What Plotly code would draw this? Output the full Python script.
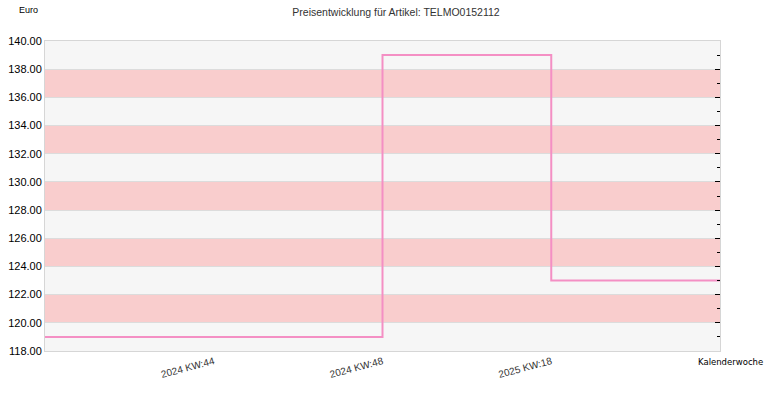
import plotly.graph_objects as go

# price history, one point per calendar week slot
weeks = ["", "2024 KW:44", "2024 KW:48", "2025 KW:18", ""]
prices = [119.0, 119.0, 139.0, 123.0, 123.0]
tick_labels = ["2024 KW:44", "2024 KW:48", "2025 KW:18"]

Y_MIN, Y_MAX, STEP = 118, 140, 2
FONT = "Liberation Sans, Arial, sans-serif"

x = list(range(len(weeks)))
tick_pos = [weeks.index(t) for t in tick_labels]

fig = go.Figure()
fig.add_trace(go.Scatter(x=x, y=prices, mode="lines", line_shape="hv",
                         line=dict(color="#f48fc4", width=2), hoverinfo="skip"))

# alternating background bands
shapes = []
for i, y0 in enumerate(range(Y_MIN, Y_MAX, STEP)):
    shapes.append(dict(type="rect", xref="paper", yref="y", x0=0, x1=1,
                       y0=y0, y1=y0 + STEP, layer="below", line_width=0,
                       fillcolor="#f6f6f6" if i % 2 == 0 else "#f9cdcd"))

fig.update_layout(
    width=770, height=400,
    margin=dict(l=45, r=50, t=41, b=49, autoexpand=False),
    paper_bgcolor="white", plot_bgcolor="white",
    showlegend=False,
    shapes=shapes,
    font=dict(family=FONT, size=11, color="#000"),
    title=dict(text="Preisentwicklung für Artikel: TELMO0152112", x=0.52, xanchor="center",
               xref="paper", yref="container", y=1 - 12 / 400, yanchor="middle",
               font=dict(size=10.5, color="#333")),
    xaxis=dict(range=[0, len(weeks) - 1], tickvals=tick_pos, ticktext=tick_labels,
               tickangle=-15, showgrid=False, zeroline=False, ticks="", automargin=False,
               showline=True, mirror=True, linecolor="#d6d6d6", linewidth=1,
               tickfont=dict(size=10, color="#333")),
    yaxis=dict(range=[Y_MIN, Y_MAX], dtick=STEP, tickformat=".2f", automargin=False,
               showgrid=True, gridcolor="#dcdcdc", gridwidth=1, zeroline=False,
               showline=True, mirror=True, linecolor="#d6d6d6", ticks="",
               layer="below traces", tickfont=dict(size=11, color="#000")),
    yaxis2=dict(range=[Y_MIN, Y_MAX], overlaying="y", side="right", dtick=STEP,
                showticklabels=False, showgrid=False, zeroline=False, automargin=False,
                ticks="inside", ticklen=5, tickcolor="#000", tickwidth=1,
                minor=dict(dtick=1, ticks="inside", ticklen=3, tickcolor="#000")),
    annotations=[
        dict(text="Euro", xref="paper", yref="paper", x=-0.024, y=1.1,
             xanchor="center", yanchor="middle", showarrow=False,
             font=dict(size=9, color="#000")),
        dict(text="Kalenderwoche", xref="paper", yref="paper", x=1.067, y=-0.012,
             xanchor="right", yanchor="top", showarrow=False,
             font=dict(family="DejaVu Sans", size=8.5, color="#000")),
    ],
)

# invisible trace so the right-hand tick axis is drawn
fig.add_trace(go.Scatter(x=[0], y=[Y_MIN], yaxis="y2", mode="markers",
                         marker=dict(opacity=0), hoverinfo="skip"))

# drop the page's default body margin so the figure sits at the window's corner
fig.write_html("out.html", config={"displayModeBar": False},
               post_script="document.body.style.margin='0px';")
